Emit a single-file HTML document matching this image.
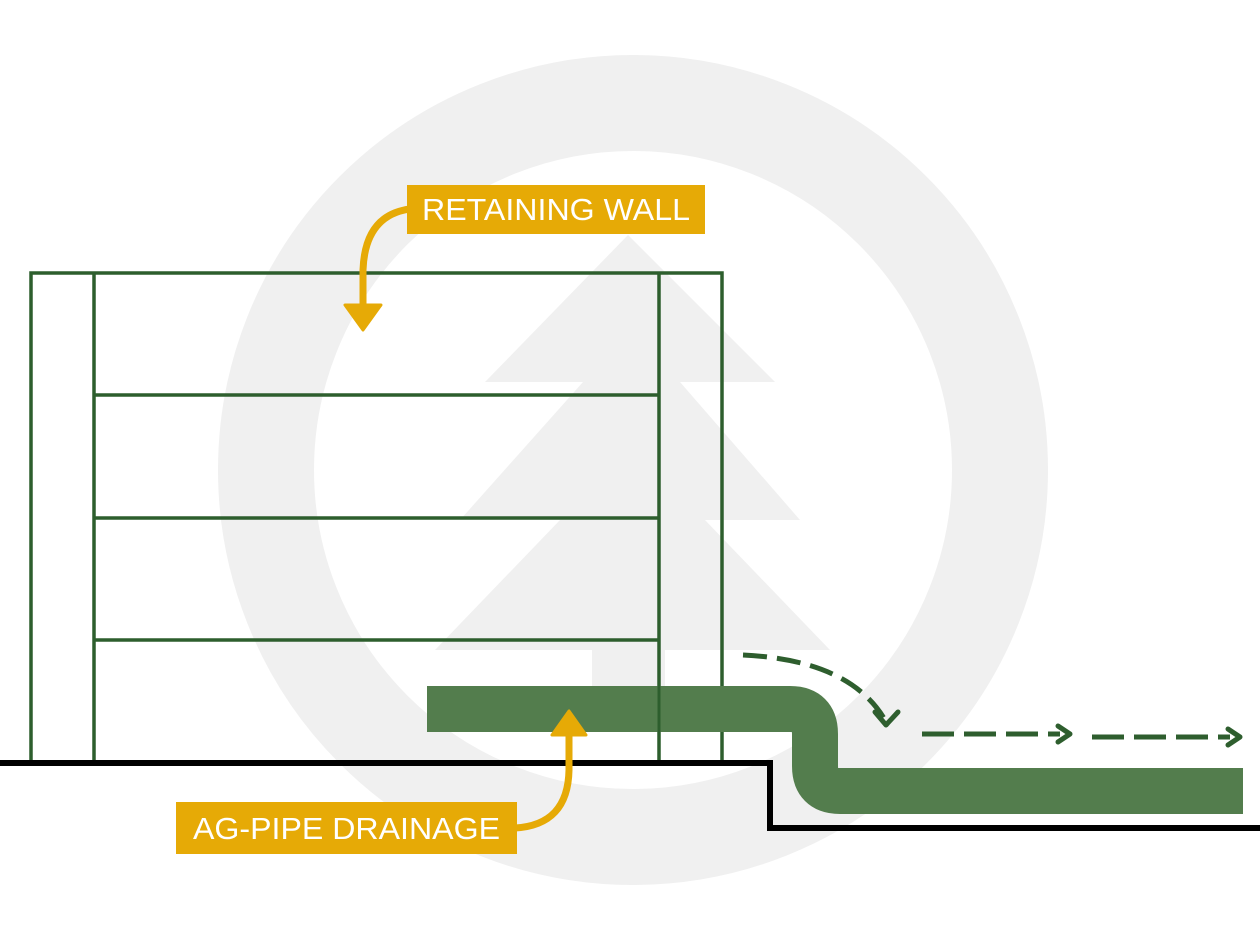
<!DOCTYPE html>
<html><head><style>body{margin:0;background:#fff}svg{display:block}</style></head><body>
<svg width="1260" height="945" viewBox="0 0 1260 945" xmlns="http://www.w3.org/2000/svg">
<rect width="1260" height="945" fill="#fff"/>
<circle cx="633" cy="470" r="367" fill="none" stroke="#f0f0f0" stroke-width="96"/>
<g fill="#f0f0f0">
<polygon points="628,235 775,382 485,382"/>
<polygon points="583,382 680,382 800,520 460,520"/>
<polygon points="560,520 705,520 830,650 435,650"/>
<rect x="592" y="645" width="73" height="50"/>
</g>
<g fill="none" stroke="#2d5e2d" stroke-width="3.5">
<rect x="31" y="273" width="691" height="489"/>
<line x1="94" y1="273" x2="94" y2="762"/>
<line x1="659" y1="273" x2="659" y2="762"/>
<line x1="94" y1="395" x2="659" y2="395"/>
<line x1="94" y1="518" x2="659" y2="518"/>
<line x1="94" y1="640" x2="659" y2="640"/>
</g>
<path d="M0,763 H770 V828 H1260" fill="none" stroke="#000" stroke-width="6"/>
<path d="M427,709 H790 Q815,709 815,734 V766 Q815,791 840,791 H1243" fill="none" stroke="#537d4d" stroke-width="46"/>
<line x1="659" y1="686" x2="659" y2="732" stroke="#2d5e2d" stroke-width="3"/>
<g fill="none" stroke="#2e5e2e" stroke-width="5">
<path d="M743,655 Q850,660 885,720" stroke-dasharray="24,10"/>
<path d="M875,712 L886,725 L898,712" stroke-linecap="round" stroke-linejoin="round"/>
<line x1="922" y1="734" x2="1060" y2="734" stroke-dasharray="32,10"/>
<path d="M1058,726 L1070,734 L1058,742" stroke-linecap="round" stroke-linejoin="round"/>
<line x1="1092" y1="737" x2="1230" y2="737" stroke-dasharray="32,10"/>
<path d="M1228,729 L1240,737 L1228,745" stroke-linecap="round" stroke-linejoin="round"/>
</g>
<rect x="407" y="185" width="298" height="49" fill="#e6aa06"/>
<text x="422" y="220" font-family="Liberation Sans, sans-serif" font-size="31" fill="#fff" textLength="268" lengthAdjust="spacingAndGlyphs">RETAINING WALL</text>
<path d="M410,209 Q365,215 363,270 V305" fill="none" stroke="#e6aa06" stroke-width="7"/>
<polygon points="345,305 381,305 363,330" fill="#e6aa06" stroke="#e6aa06" stroke-width="3" stroke-linejoin="round"/>
<rect x="176" y="802" width="341" height="52" fill="#e6aa06"/>
<text x="193" y="839" font-family="Liberation Sans, sans-serif" font-size="31" fill="#fff" textLength="307" lengthAdjust="spacingAndGlyphs">AG-PIPE DRAINAGE</text>
<path d="M515,828 Q568,825 569,770 V735" fill="none" stroke="#e6aa06" stroke-width="7"/>
<polygon points="552,735 586,735 569,711" fill="#e6aa06" stroke="#e6aa06" stroke-width="3" stroke-linejoin="round"/>
</svg>
</body></html>
